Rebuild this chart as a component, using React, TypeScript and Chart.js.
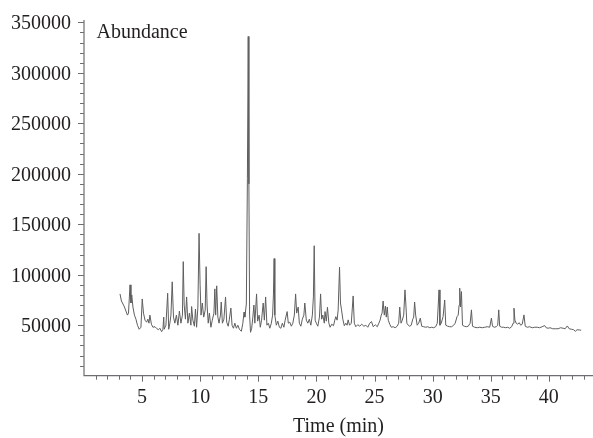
import React, { useEffect, useRef } from "react";
import { Chart, registerables } from "chart.js";

Chart.register(...registerables);

// Retention time (min)
const retentionTimes: number[] = [
  3.10, 3.22, 3.31, 3.40, 3.48, 3.61, 3.74, 3.83, 3.96, 4.04, 4.11, 4.21, 4.34, 4.47, 4.60, 4.75, 4.90,
  5.01, 5.12, 5.25, 5.39, 5.50, 5.59, 5.67, 5.80, 5.93, 6.11, 6.28, 6.41, 6.53, 6.68, 6.79, 6.86, 6.90,
  7.05, 7.20, 7.29, 7.39, 7.48, 7.59, 7.70, 7.82, 7.95, 8.08, 8.21, 8.34, 8.47, 8.54, 8.62, 8.73, 8.83,
  8.94, 9.07, 9.20, 9.26, 9.37, 9.50, 9.59, 9.69, 9.80, 9.90, 9.99, 10.07, 10.18, 10.30, 10.43, 10.51,
  10.59, 10.69, 10.79, 10.92, 11.04, 11.18, 11.26, 11.33, 11.42, 11.52, 11.62, 11.74, 11.81, 11.91,
  12.04, 12.18, 12.28, 12.41, 12.51, 12.64, 12.74, 12.86, 12.98, 13.11, 13.24, 13.37, 13.54, 13.67,
  13.77, 13.84, 13.97, 14.06, 14.13, 14.19, 14.25, 14.33, 14.43, 14.53, 14.62, 14.70, 14.85, 14.94,
  15.07, 15.17, 15.28, 15.42, 15.52, 15.63, 15.74, 15.86, 15.99, 16.12, 16.23, 16.30, 16.36, 16.42,
  16.55, 16.68, 16.81, 16.94, 17.07, 17.20, 17.31, 17.48, 17.58, 17.71, 17.84, 17.97, 18.10, 18.21,
  18.30, 18.43, 18.53, 18.66, 18.79, 18.92, 19.00, 19.13, 19.26, 19.39, 19.52, 19.65, 19.74, 19.81,
  19.89, 19.99, 20.12, 20.26, 20.36, 20.45, 20.55, 20.68, 20.74, 20.85, 20.95, 21.07, 21.18, 21.32,
  21.47, 21.58, 21.67, 21.78, 21.87, 21.99, 22.07, 22.16, 22.27, 22.40, 22.53, 22.64, 22.73, 22.85,
  23.00, 23.16, 23.26, 23.39, 23.56, 23.73, 23.90, 24.08, 24.25, 24.42, 24.59, 24.74, 24.89, 25.06,
  25.24, 25.37, 25.48, 25.58, 25.65, 25.74, 25.84, 25.94, 26.01, 26.10, 26.18, 26.31, 26.44, 26.61,
  26.78, 26.95, 27.08, 27.17, 27.28, 27.39, 27.51, 27.62, 27.69, 27.78, 27.90, 28.03, 28.16, 28.29,
  28.37, 28.45, 28.54, 28.67, 28.80, 28.94, 29.06, 29.23, 29.41, 29.58, 29.75, 29.92, 30.09, 30.26,
  30.40, 30.47, 30.55, 30.63, 30.74, 30.90, 31.04, 31.13, 31.30, 31.47, 31.64, 31.81, 31.94, 32.10,
  32.20, 32.28, 32.33, 32.40, 32.48, 32.57, 32.72, 32.89, 33.06, 33.23, 33.34, 33.43, 33.62, 33.84,
  34.05, 34.27, 34.48, 34.70, 34.91, 35.06, 35.15, 35.30, 35.47, 35.60, 35.69, 35.77, 35.94, 36.11,
  36.29, 36.46, 36.63, 36.80, 36.93, 37.00, 37.08, 37.19, 37.32, 37.45, 37.58, 37.71, 37.86, 37.97,
  38.14, 38.35, 38.57, 38.78, 39.00, 39.21, 39.42, 39.64, 39.77, 39.94, 40.11, 40.33, 40.58, 40.80,
  41.01, 41.23, 41.40, 41.59, 41.75, 41.96, 42.13, 42.28, 42.43, 42.65, 42.78,
];

// Abundance
const abundance: number[] = [
  81000, 74000, 72000, 70000, 68000, 64000, 60000, 62000, 90000, 72000, 80000, 68000, 60000, 56000, 50000, 46000, 48000,
  76000, 62000, 55000, 53000, 56000, 52000, 60000, 51000, 48000, 48500, 46500, 45500, 47000, 43600, 46000, 58000, 46000,
  50000, 81700, 46000, 52000, 60000, 93000, 58000, 52000, 60000, 50000, 64000, 52000, 60000, 113000, 70000, 56000, 78000,
  52000, 62000, 50000, 68500, 55000, 49000, 66000, 48000, 68000, 141000, 90000, 60000, 72000, 58000, 65000, 108000,
  70000, 52000, 62000, 48000, 55000, 62000, 86000, 60000, 89000, 58000, 52000, 60000, 73000, 52000,
  56000, 78000, 53000, 49000, 56000, 67000, 50000, 47000, 52000, 47000, 50000, 46000, 44000, 52000,
  63000, 58000, 71000, 195000, 336000, 190000, 60000, 43000, 47000, 58000, 70000, 52000, 81000, 54000,
  60000, 48000, 55000, 72000, 55000, 78000, 50000, 52000, 47000, 52000, 60000, 80000, 116000, 60000,
  50000, 54000, 48000, 47000, 52000, 48000, 55000, 63500, 52000, 53000, 49000, 52000, 60000, 81000,
  62000, 68000, 52000, 49000, 56000, 60000, 72000, 55000, 52000, 56000, 50000, 60000, 78000, 128700,
  55000, 52000, 49000, 58000, 81000, 56000, 60000, 52000, 63500, 54000, 67800, 52000, 48000, 51000,
  49500, 55000, 58500, 55000, 65000, 107500, 72000, 65200, 56000, 49500, 52000, 50000, 55300, 50000,
  52000, 79000, 52000, 48500, 50500, 49000, 51000, 49000, 50000, 48000, 52000, 53600, 48500, 50500,
  48500, 52000, 55000, 60000, 62000, 74000, 60000, 69000, 58000, 68000, 55000, 51000, 48000, 48500,
  47500, 49000, 52000, 68000, 52000, 55000, 60000, 85000, 72000, 52000, 50000, 49000, 50000, 56000,
  58000, 73000, 60000, 50000, 52000, 57000, 49000, 48500, 48000, 48500, 47500, 48000, 47500, 48500,
  52000, 67000, 85000, 50000, 52000, 58500, 75000, 50000, 49000, 48500, 48500, 50000, 52000, 58500,
  60000, 70000, 86700, 68000, 83300, 50000, 49000, 48500, 49000, 52000, 65200, 49000, 48000, 47500,
  48000, 47500, 48000, 48500, 48000, 57000, 49000, 48000, 48500, 50000, 65200, 49000, 48000, 48000,
  47500, 48000, 47000, 48500, 52000, 66900, 55000, 52000, 51000, 52500, 50000, 51000, 60200, 49000,
  48000, 48500, 47500, 48000, 48000, 47500, 48500, 49600, 47500, 47000, 47500, 46500, 46500, 46500,
  47500, 47000, 46500, 49300, 46500, 46000, 45500, 44000, 45500, 45300, 45000,
];

const yTickLabels: number[] = [50000, 100000, 150000, 200000, 250000, 300000, 350000];
const xTickLabels: number[] = [5, 10, 15, 20, 25, 30, 35, 40];
const xAxisTitle = "Time (min)";
const yAxisTitle = "Abundance";

const FONT = '20px "Liberation Serif", "DejaVu Serif", serif';
const TEXT_COLOR = "#231f20";
const AXIS_COLOR = "#6d6e71";

const axesPlugin = {
  id: "chromAxes",
  afterDraw(chart: any) {
    const { ctx, chartArea } = chart;
    const xs = chart.scales.x;
    const ys = chart.scales.y;
    const left = chartArea.left;
    const bottom = chartArea.bottom;
    ctx.save();
    ctx.strokeStyle = AXIS_COLOR;
    ctx.lineWidth = 1.2;
    // axis lines
    ctx.beginPath();
    ctx.moveTo(left, chartArea.top);
    ctx.lineTo(left, bottom);
    ctx.lineTo(chart.width, bottom);
    ctx.stroke();
    // y ticks
    ctx.lineWidth = 1;
    ctx.beginPath();
    for (let v = 10000; v <= 350000; v += 10000) {
      const py = Math.round(ys.getPixelForValue(v)) + 0.5;
      const len = v % 50000 === 0 ? 6 : 4;
      ctx.moveTo(left, py);
      ctx.lineTo(left - len, py);
    }
    // x ticks
    for (let t = 1; t <= 43; t += 1) {
      const px = Math.round(xs.getPixelForValue(t)) + 0.5;
      const len = t % 5 === 0 ? 6 : 4;
      ctx.moveTo(px, bottom);
      ctx.lineTo(px, bottom + len);
    }
    ctx.stroke();
    // labels
    ctx.fillStyle = TEXT_COLOR;
    ctx.font = FONT;
    ctx.textAlign = "right";
    ctx.textBaseline = "alphabetic";
    yTickLabels.forEach((v) => {
      const py = ys.getPixelForValue(v);
      ctx.fillText(String(v), left - 13, py + 7);
    });
    ctx.textAlign = "center";
    xTickLabels.forEach((t) => {
      const px = xs.getPixelForValue(t);
      ctx.fillText(String(t), px, bottom + 27.5);
    });
    ctx.fillText(xAxisTitle, (left + chart.width) / 2, 432);
    ctx.textAlign = "left";
    ctx.fillText(yAxisTitle, left + 12.5, 38);
    ctx.restore();
  },
};

export default function App() {
  const canvasRef = useRef<HTMLCanvasElement | null>(null);

  useEffect(() => {
    document.body.style.margin = "0";
    const canvas = canvasRef.current;
    if (!canvas) return;
    const points = retentionTimes.map((t, i) => ({ x: t, y: abundance[i] }));
    const chart = new Chart(canvas, {
      type: "line",
      data: {
        datasets: [
          {
            data: points,
            borderColor: "#5e5e5e",
            borderWidth: 1,
            pointRadius: 0,
            tension: 0,
            fill: false,
          },
        ],
      },
      options: {
        animation: false,
        responsive: false,
        devicePixelRatio: 1,
        layout: { padding: { left: 84, right: 0, top: 20, bottom: 62.3 } },
        plugins: { legend: { display: false }, tooltip: { enabled: false } },
        scales: {
          x: { type: "linear", min: 0, max: 43.8, display: false },
          y: { type: "linear", min: 0, max: 352300, display: false },
        },
      },
      plugins: [axesPlugin],
    });
    return () => chart.destroy();
  }, []);

  return (
    <div style={{ width: 593, height: 438, background: "#fff" }}>
      <canvas ref={canvasRef} width={593} height={438} style={{ display: "block" }} />
    </div>
  );
}
